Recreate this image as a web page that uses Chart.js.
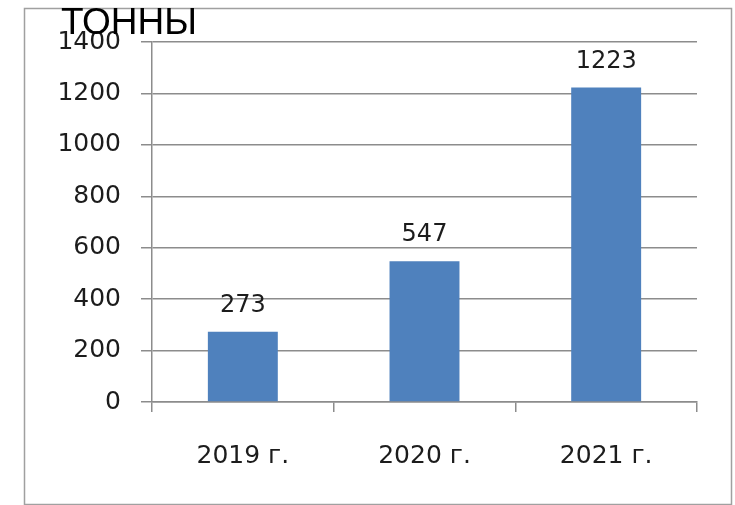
<!DOCTYPE html>
<html>
<head>
<meta charset="utf-8">
<script src="https://cdn.jsdelivr.net/npm/chart.js@4.4.1/dist/chart.umd.min.js"></script>
<style>
  html, body { margin: 0; padding: 0; background: #fff; }
  #wrap { width: 735px; height: 505px; position: relative; }
</style>
</head>
<body>
<div id="wrap"><canvas id="c" width="735" height="505"></canvas></div>
<script>
// Annual volume, tonnes
const years = ['2019 г.', '2020 г.', '2021 г.'];
const tonnes = [273, 547, 1223];
const yTickValues = [0, 200, 400, 600, 800, 1000, 1200, 1400];
const unitTitle = 'ТОННЫ';

const tickFont = { family: 'DejaVu Sans', size: 25 };
const textColor = '#1c1c1c';
const lineColor = '#8c8c8c';

// white page with a thin grey frame around the chart
const framePlugin = {
  id: 'frame',
  beforeDraw(chart) {
    const ctx = chart.ctx;
    ctx.save();
    ctx.fillStyle = '#fff';
    ctx.fillRect(0, 0, chart.width, chart.height);
    ctx.strokeStyle = '#a0a0a0';
    ctx.lineWidth = 1.5;
    ctx.strokeRect(24.5, 8.5, 707, 496);
    ctx.restore();
  }
};

// unit caption in the top-left corner
const unitPlugin = {
  id: 'unitCaption',
  afterDraw(chart) {
    const ctx = chart.ctx;
    ctx.save();
    ctx.font = '37px "Liberation Sans", Arial, sans-serif';
    ctx.fillStyle = '#000';
    ctx.textAlign = 'left';
    ctx.textBaseline = 'alphabetic';
    ctx.fillText(unitTitle, 61, 34);
    ctx.restore();
  }
};

// value printed above each bar
const valueLabels = {
  id: 'valueLabels',
  afterDatasetsDraw(chart) {
    const ctx = chart.ctx;
    const meta = chart.getDatasetMeta(0);
    ctx.save();
    ctx.font = '24px "DejaVu Sans"';
    ctx.fillStyle = textColor;
    ctx.textAlign = 'center';
    ctx.textBaseline = 'alphabetic';
    meta.data.forEach((bar, i) => {
      ctx.fillText(String(chart.data.datasets[0].data[i]), bar.x, bar.y - 20);
    });
    ctx.restore();
  }
};

new Chart(document.getElementById('c'), {
  type: 'bar',
  data: {
    labels: years,
    datasets: [{
      data: tonnes,
      backgroundColor: '#4f81bd',
      borderWidth: 0,
      categoryPercentage: 1,
      barPercentage: 0.385
    }]
  },
  options: {
    responsive: false,
    animation: false,
    devicePixelRatio: 1,
    layout: { padding: { left: 0, right: 38, top: 42, bottom: 0 } },
    plugins: {
      legend: { display: false },
      tooltip: { enabled: false }
    },
    scales: {
      x: {
        offset: true,
        grid: {
          offset: true,
          drawOnChartArea: false,
          drawTicks: true,
          tickLength: 10,
          color: lineColor,
          lineWidth: 1.5
        },
        border: { display: true, color: lineColor, width: 1.5 },
        ticks: { font: tickFont, color: textColor, padding: 29 },
        afterFit(scale) { scale.height = 103; }
      },
      y: {
        min: 0,
        max: 1400,
        afterBuildTicks(scale) { scale.ticks = yTickValues.map(v => ({ value: v })); },
        grid: {
          color: lineColor,
          lineWidth: 1.5,
          tickLength: 11
        },
        border: { display: true, color: lineColor, width: 1.5 },
        ticks: {
          font: tickFont,
          color: textColor,
          padding: 20,
          callback: v => String(v)
        },
        afterFit(scale) { scale.width = 152; }
      }
    }
  },
  plugins: [framePlugin, unitPlugin, valueLabels]
});
</script>
</body>
</html>
